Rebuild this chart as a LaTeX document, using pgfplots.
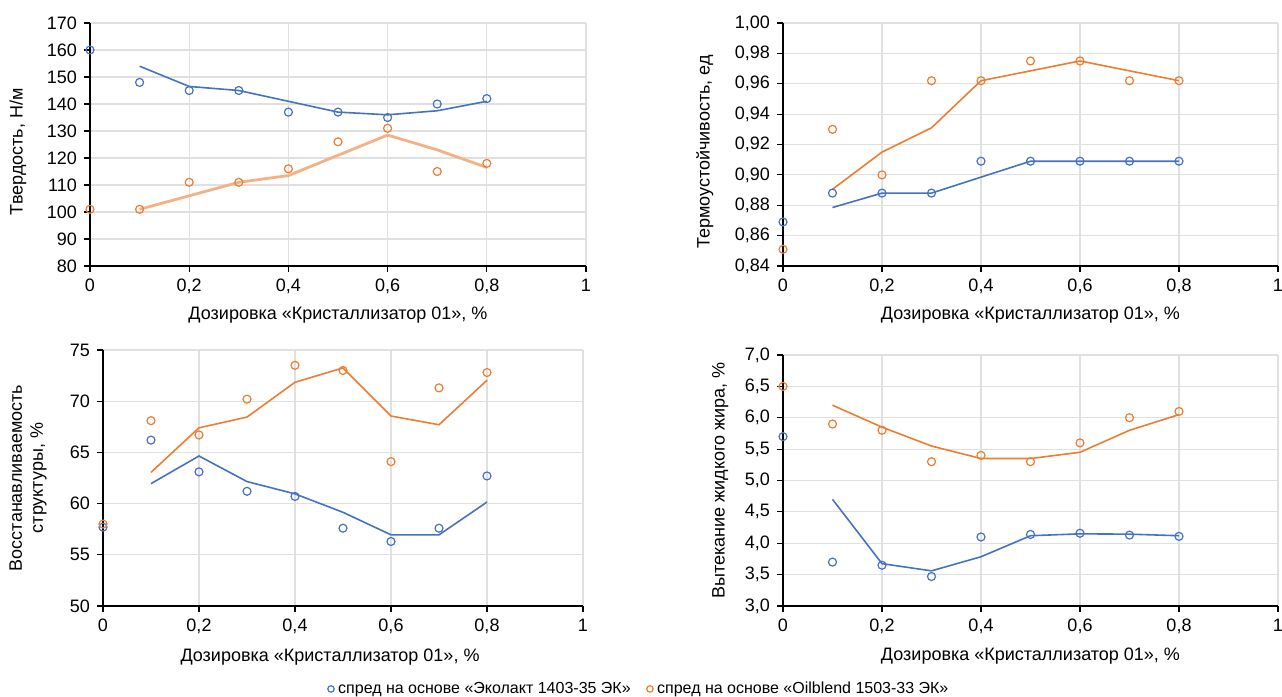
\documentclass[border=0pt]{standalone}
\usepackage{fontspec}
\setmainfont{Liberation Sans}
\usepackage{pgfplots}
\pgfplotsset{compat=1.18}

\definecolor{eblue}{RGB}{68,114,196}
\definecolor{eorange}{RGB}{237,125,49}
\definecolor{elight}{RGB}{244,177,131}

\pgfplotsset{
  panel/.style={
    scale only axis,
    axis x line*=bottom, axis y line*=left,
    axis line style={black, line width=0.7pt},
    tick align=outside, major tick length=3pt,
    tick style={black, line width=0.6pt},
    grid=major, major grid style={draw=black!12, line width=0.6pt},
    xmin=0, xmax=1, xtick={0,0.2,0.4,0.6,0.8,1},
    /pgf/number format/use comma,
    /pgf/number format/assume math mode=true,
    tick label style={font=\fontsize{9}{10}\selectfont},
    label style={font=\fontsize{9}{10.5}\selectfont, align=center},
    xlabel={Дозировка «Кристаллизатор 01», \%},
    xlabel style={at={(axis description cs:0.5,-0.2)}, anchor=center},
    clip=false,
  },
  pts/.style={only marks, mark=o, mark size=2pt, mark options={line width=0.6pt}},
  trend/.style={no marks, line width=0.8pt, forget plot},
}

\begin{document}
\begin{tikzpicture}
\useasboundingbox (0,0) rectangle (641pt,348.5pt);

% Твердость
\begin{axis}[panel, at={(45pt,215.5pt)}, anchor=south west,
  width=248pt, height=121.5pt,
  ymin=80, ymax=170, ytick={80,90,...,170},
  ylabel={Твердость, Н/м},
  ylabel style={at={(axis description cs:-0.145,0.47)}, anchor=center}]
\addplot[pts, eblue] coordinates {(0,160)(0.1,148)(0.2,145)(0.3,145)(0.4,137)(0.5,137)(0.6,135)(0.7,140)(0.8,142)};
\addplot[pts, eorange] coordinates {(0,101)(0.1,101)(0.2,111)(0.3,111)(0.4,116)(0.5,126)(0.6,131)(0.7,115)(0.8,118)};
\addplot[trend, eblue] coordinates {(0.1,154)(0.2,146.5)(0.3,145)(0.4,141)(0.5,137)(0.6,136)(0.7,137.5)(0.8,141)};
\addplot[trend, elight, line width=1.4pt] coordinates {(0.1,101)(0.2,106)(0.3,111)(0.4,113.5)(0.5,121)(0.6,128.5)(0.7,123)(0.8,116.5)};
\end{axis}

% Термоустойчивость
\begin{axis}[panel, at={(391.5pt,215.5pt)}, anchor=south west,
  width=247.5pt, height=121.5pt,
  ymin=0.84, ymax=1.00, ytick={0.84,0.86,0.88,0.90,0.92,0.94,0.96,0.98,1.00},
  yticklabel style={/pgf/number format/.cd, fixed, fixed zerofill, precision=2},
  ylabel={Термоустойчивость, ед},
  ylabel style={at={(axis description cs:-0.158,0.47)}, anchor=center}]
\addplot[pts, eblue] coordinates {(0,0.869)(0.1,0.888)(0.2,0.888)(0.3,0.888)(0.4,0.909)(0.5,0.909)(0.6,0.909)(0.7,0.909)(0.8,0.909)};
\addplot[pts, eorange] coordinates {(0,0.851)(0.1,0.930)(0.2,0.900)(0.3,0.962)(0.4,0.962)(0.5,0.975)(0.6,0.975)(0.7,0.962)(0.8,0.962)};
\addplot[trend, eblue] coordinates {(0.1,0.8785)(0.2,0.888)(0.3,0.888)(0.4,0.8985)(0.5,0.909)(0.6,0.909)(0.7,0.909)(0.8,0.909)};
\addplot[trend, eorange] coordinates {(0.1,0.8905)(0.2,0.915)(0.3,0.931)(0.4,0.962)(0.5,0.9685)(0.6,0.975)(0.7,0.9685)(0.8,0.962)};
\end{axis}

% Восстанавливаемость структуры
\begin{axis}[panel, at={(51.5pt,45.5pt)}, anchor=south west,
  width=240pt, height=128pt,
  ymin=50, ymax=75, ytick={50,55,...,75},
  ylabel={Восстанавливаемость\\структуры, \%},
  ylabel style={at={(axis description cs:-0.156,0.5)}, anchor=center},
  xlabel style={at={(axis description cs:0.473,-0.2)}},
  legend style={at={(axis description cs:1.119,-0.324)}, anchor=center,
    draw=none, fill=none, font=\fontsize{8}{9}\selectfont,
    legend cell align=left, inner sep=0pt},
  legend columns=2,
  legend image code/.code={\draw[#1, mark size=1.6pt] (0.1cm,0cm) plot coordinates {(0.1cm,0cm)};},
  /tikz/every even column/.append style={column sep=6pt}]
\addplot[pts, eblue] coordinates {(0,57.7)(0.1,66.2)(0.2,63.1)(0.3,61.2)(0.4,60.7)(0.5,57.6)(0.6,56.3)(0.7,57.6)(0.8,62.7)};
\addlegendentry{спред на основе «Эколакт 1403-35 ЭК»}
\addplot[pts, eorange] coordinates {(0,58.0)(0.1,68.1)(0.2,66.7)(0.3,70.2)(0.4,73.5)(0.5,73.0)(0.6,64.1)(0.7,71.3)(0.8,72.8)};
\addlegendentry{спред на основе «Oilblend 1503-33 ЭК»}
\addplot[trend, eblue] coordinates {(0.1,61.95)(0.2,64.65)(0.3,62.15)(0.4,60.95)(0.5,59.15)(0.6,56.95)(0.7,56.95)(0.8,60.15)};
\addplot[trend, eorange] coordinates {(0.1,63.05)(0.2,67.4)(0.3,68.45)(0.4,71.85)(0.5,73.25)(0.6,68.55)(0.7,67.7)(0.8,72.05)};
\end{axis}

% Вытекание жидкого жира
\begin{axis}[panel, at={(391.5pt,45.5pt)}, anchor=south west,
  width=247.5pt, height=125.5pt,
  ymin=3, ymax=7, ytick={3,3.5,...,7},
  yticklabel style={/pgf/number format/.cd, fixed, fixed zerofill, precision=1},
  ylabel={Вытекание жидкого жира, \%},
  ylabel style={at={(axis description cs:-0.127,0.5)}, anchor=center}]
\addplot[pts, eblue] coordinates {(0,5.7)(0.1,3.7)(0.2,3.65)(0.3,3.47)(0.4,4.1)(0.5,4.14)(0.6,4.16)(0.7,4.13)(0.8,4.11)};
\addplot[pts, eorange] coordinates {(0,6.5)(0.1,5.9)(0.2,5.8)(0.3,5.3)(0.4,5.4)(0.5,5.3)(0.6,5.6)(0.7,6.0)(0.8,6.1)};
\addplot[trend, eblue] coordinates {(0.1,4.7)(0.2,3.675)(0.3,3.56)(0.4,3.785)(0.5,4.12)(0.6,4.15)(0.7,4.145)(0.8,4.12)};
\addplot[trend, eorange] coordinates {(0.1,6.2)(0.2,5.85)(0.3,5.55)(0.4,5.35)(0.5,5.35)(0.6,5.45)(0.7,5.8)(0.8,6.05)};
\end{axis}
\end{tikzpicture}
\end{document}
